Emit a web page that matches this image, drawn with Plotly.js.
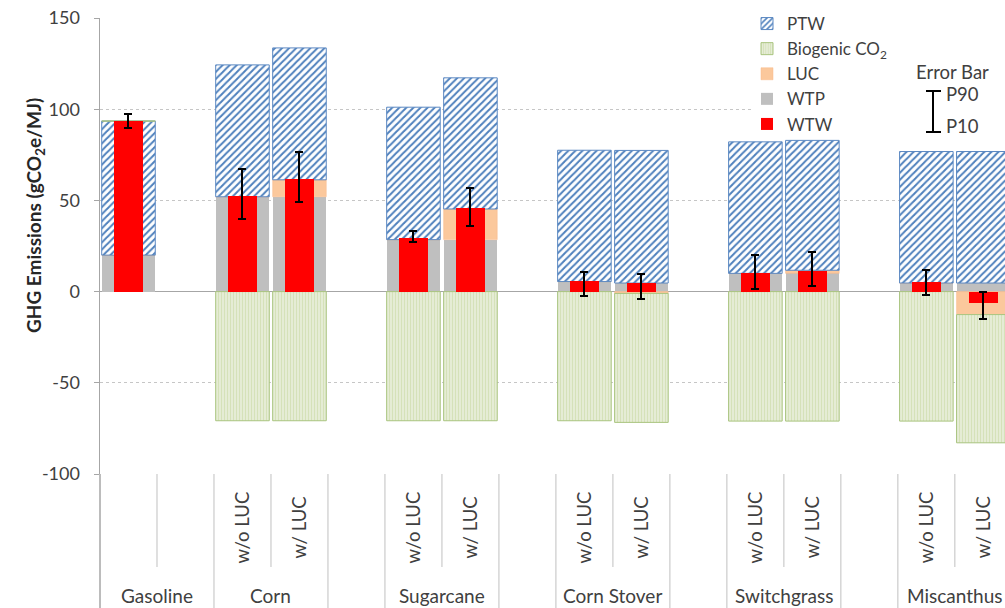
<!DOCTYPE html>
<html>
<head>
<meta charset="utf-8">
<script src="https://cdn.plot.ly/plotly-3.0.1.min.js"></script>
<style>
html,body{margin:0;padding:0;overflow:hidden;background:#fff;}
#chart{width:1005px;height:608px;}
</style>
</head>
<body>
<div id="chart"></div>
<script>
// ---- Data ----
const slotGroups = ['Gasoline','Gasoline','Corn','Corn','','Sugarcane','Sugarcane','','Corn Stover','Corn Stover','','Switchgrass','Switchgrass','','Miscanthus','Miscanthus'];
const slotCases  = ['','(none)','w/o LUC','w/ LUC','(gap)','w/o LUC','w/ LUC','(gap)','w/o LUC','w/ LUC','(gap)','w/o LUC','w/ LUC','(gap)','w/o LUC','w/ LUC'];

const fuels = ['Gasoline','Corn','Corn','Sugarcane','Sugarcane','Corn Stover','Corn Stover','Switchgrass','Switchgrass','Miscanthus','Miscanthus'];
const cases = ['','w/o LUC','w/ LUC','w/o LUC','w/ LUC','w/o LUC','w/ LUC','w/o LUC','w/ LUC','w/o LUC','w/ LUC'];

const wtp       = [20, 52, 52, 28.5, 28.5, 5.5, 4.7, 10, 10, 4.7, 4.7];
const luc       = [0, 0, 9.3, 0, 16.8, 0, -1, 0, 1.7, 0, -12.6];
const ptw       = [73.5, 72.3, 72.3, 72.6, 71.9, 72, 72.7, 72.1, 71.2, 72.1, 72.1];
const biogenic  = [0, -70.8, -70.8, -70.8, -70.8, -70.8, -70.7, -71, -71, -71, -70.3];
const wtw       = [93.5, 52.5, 61.5, 29.5, 46, 6, 4.5, 10, 11.5, 5, -6.5];
const p90       = [97.3, 67.4, 76.5, 33, 56.8, 10.8, 9.7, 20.3, 21.7, 11.7, -0.2];
const p10       = [89.6, 40, 49.1, 27, 36.1, -2.2, -3.8, 1.5, 3.3, -1.6, -14.8];

const yTicks = [-100, -50, 0, 50, 100, 150];

// ---- Helpers ----
const key = (g, c) => c ? g + ' ' + c : g;
const slotKeys = slotGroups.map((g, i) => (g === '' ? 'gap' + i : key(g, slotCases[i])));
const barKeys = fuels.map((f, i) => key(f, cases[i]));

const FONT = 'Lato, Carlito, "Open Sans", sans-serif';
const TXT = '#404040';
const barW = barKeys.map(() => 0.94);
const redW = barKeys.map(() => 0.5);

const traces = [
  {type:'bar', name:'WTP', x:barKeys, y:wtp, width:barW, legendrank:4,
   marker:{color:'#bfbfbf', line:{width:0}}},
  {type:'bar', name:'LUC', x:barKeys, y:luc, width:barW, legendrank:3,
   marker:{color:'#fbc89c', line:{color:'#f8b888', width:0.5}}},
  {type:'bar', name:'PTW', x:barKeys, y:ptw, width:barW, legendrank:1,
   marker:{color:'#4f81bd', line:{color:'#5b88c2', width:1},
     pattern:{shape:'/', fillmode:'replace', fgcolor:'#4f81bd', bgcolor:'#ffffff', size:5, solidity:0.4}}},
  {type:'bar', name:'Biogenic CO<sub>2</sub>', x:barKeys, y:biogenic, width:barW, legendrank:2,
   marker:{color:'#dfe8ca', line:{color:'#a9c47f', width:1},
     pattern:{shape:'|', fillmode:'replace', fgcolor:'#d5e1b9', bgcolor:'#e7eed8', size:3, solidity:0.4}}},
  {type:'bar', name:'WTW', x:barKeys, y:wtw, width:redW, yaxis:'y2', legendrank:5,
   marker:{color:'#ff0000', line:{width:0}},
   error_y:{type:'data', symmetric:false,
     array:wtw.map((v,i)=>p90[i]-v), arrayminus:wtw.map((v,i)=>v-p10[i]),
     color:'#000000', thickness:2, width:4}}
];

// ---- Category label area (below plot) ----
const px2x = p => (p - 100) / 905;
const px2y = p => (474 - p) / 456;
const shapes = [];
const annotations = [];
const sepColor = '#c0c0c0';
shapes.push({type:'line', xref:'paper', yref:'paper', x0:0, x1:0, y0:px2y(608), y1:0, line:{color:'#a6a6a6', width:1.5}});
for (let k = 0; k < slotKeys.length - 1; k++) {
  const full = slotGroups[k] !== slotGroups[k+1] || slotGroups[k] === '';
  shapes.push({type:'line', xref:'x', yref:'paper', x0:k+0.5, x1:k+0.5,
    y0: full ? px2y(608) : px2y(567), y1:0, line:{color:sepColor, width:1}});
}
barKeys.forEach((k, i) => {
  if (cases[i]) annotations.push({xref:'x', yref:'paper', x:k, y:px2y(527), text:cases[i],
    textangle:-90, xanchor:'center', yanchor:'middle', showarrow:false, font:{family:FONT, size:18.5, color:TXT}});
});
const groupNames = [...new Set(slotGroups.filter(g => g !== ''))];
groupNames.forEach(g => {
  const idx = slotGroups.map((s,i)=>s===g?i:-1).filter(i=>i>=0);
  const c = idx.reduce((a,b)=>a+b,0)/idx.length;
  annotations.push({xref:'x', yref:'paper', x:c, y:px2y(595), text:g, showarrow:false,
    xanchor:'center', yanchor:'middle', font:{family:FONT, size:19, color:TXT}});
});
annotations.push({xref:'paper', yref:'paper', x:px2x(35), y:px2y(216), text:'<b>GHG Emissions (gCO<sub>2</sub>e/MJ)</b>',
  textangle:-90, xanchor:'center', yanchor:'middle', showarrow:false, font:{family:FONT, size:19, color:'#262626'}});

// white backdrop behind legend / error-bar key (hides gridlines there)
shapes.push({type:'rect', xref:'paper', yref:'paper', x0:px2x(752), x1:1, y0:px2y(136), y1:px2y(0),
  fillcolor:'#ffffff', line:{width:0}, layer:'above'});
// Error bar key
shapes.push({type:'line', xref:'paper', yref:'paper', x0:px2x(933), x1:px2x(933), y0:px2y(132), y1:px2y(91), line:{color:'#000', width:2}, layer:'above'});
shapes.push({type:'line', xref:'paper', yref:'paper', x0:px2x(926), x1:px2x(941), y0:px2y(91), y1:px2y(91), line:{color:'#000', width:2}, layer:'above'});
shapes.push({type:'line', xref:'paper', yref:'paper', x0:px2x(926), x1:px2x(941), y0:px2y(132), y1:px2y(132), line:{color:'#000', width:2}, layer:'above'});
annotations.push({xref:'paper', yref:'paper', x:px2x(952), y:px2y(72), text:'Error Bar', showarrow:false, xanchor:'center', yanchor:'middle', borderpad:0, font:{family:FONT, size:18.5, color:TXT}});
annotations.push({xref:'paper', yref:'paper', x:px2x(945), y:px2y(94), text:'P90', showarrow:false, xanchor:'left', yanchor:'middle', borderpad:0, font:{family:FONT, size:18.5, color:TXT}});
annotations.push({xref:'paper', yref:'paper', x:px2x(945), y:px2y(126), text:'P10', showarrow:false, xanchor:'left', yanchor:'middle', borderpad:0, font:{family:FONT, size:18.5, color:TXT}});

const layout = {
  width:1005, height:608,
  margin:{l:100, r:0, t:18, b:134, pad:0},
  paper_bgcolor:'#ffffff', plot_bgcolor:'#ffffff',
  font:{family:FONT, size:15, color:TXT},
  barmode:'relative',
  bargap:0,
  showlegend:true,
  legend:{x:px2x(747), xanchor:'left', y:px2y(6), yanchor:'top', bgcolor:'rgba(255,255,255,0)',
    font:{family:FONT, size:17, color:TXT}, traceorder:'normal', itemwidth:30},
  xaxis:{type:'category', categoryorder:'array', categoryarray:slotKeys,
    range:[-0.5, 15.38], showticklabels:false, showgrid:false, zeroline:false,
    showline:false, ticks:'', fixedrange:true},
  yaxis:{range:[-100,150], tickvals:yTicks, ticktext:yTicks.map(String),
    showgrid:true, gridcolor:'#c6c6c6', gridwidth:1, griddash:'3px,3px',
    zeroline:true, zerolinecolor:'#a6a6a6', zerolinewidth:1.5,
    showline:true, linecolor:'#a6a6a6', linewidth:1.5,
    ticks:'outside', ticklen:5, tickcolor:'#a6a6a6', ticklabelstandoff:10,
    tickfont:{family:FONT, size:18, color:TXT}, fixedrange:true},
  yaxis2:{range:[-100,150], overlaying:'y', visible:false, fixedrange:true},
  shapes:shapes,
  annotations:annotations
};

Plotly.newPlot('chart', traces, layout, {displayModeBar:false, staticPlot:true});
</script>
</body>
</html>
